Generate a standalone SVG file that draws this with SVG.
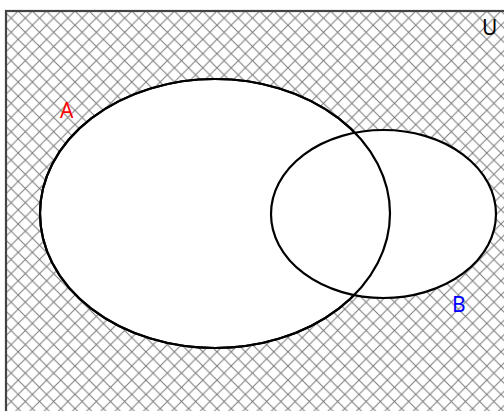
<svg xmlns="http://www.w3.org/2000/svg" width="504" height="411" viewBox="0 0 504 411">
<defs>
<pattern id="hatch" patternUnits="userSpaceOnUse" x="4" y="11" width="14.2" height="14.2">
<path d="M0,0 L14.2,14.2 M14.2,0 L0,14.2" stroke="#7a7a7a" stroke-width="1" fill="none"/>
</pattern>
</defs>
<style>
.set{fill:#fff;stroke:#000;stroke-width:2.2}
.outline{fill:none;stroke:#000;stroke-width:2.2}
.lbl{font-family:"Noto Sans","DejaVu Sans",sans-serif;font-size:21px}
</style>
<rect id="universe" x="6" y="11" width="520" height="420" fill="url(#hatch)" stroke="#444" stroke-width="2.2"/>
<g id="setA">
<ellipse class="set" cx="215" cy="213.5" rx="175" ry="134.5"/>
</g>
<g id="setB">
<ellipse class="set" cx="383.5" cy="214" rx="112.5" ry="84"/>
<ellipse class="outline" cx="215" cy="213.5" rx="175" ry="134.5"/>
</g>
<g id="connectors"></g>
<text class="lbl" x="60" y="118" fill="#f00" font-size="21">A</text>
<text class="lbl" x="452" y="312" fill="#00f" font-size="21">B</text>
<text class="lbl" x="482" y="35" fill="#000" font-size="18">U</text>
</svg>
